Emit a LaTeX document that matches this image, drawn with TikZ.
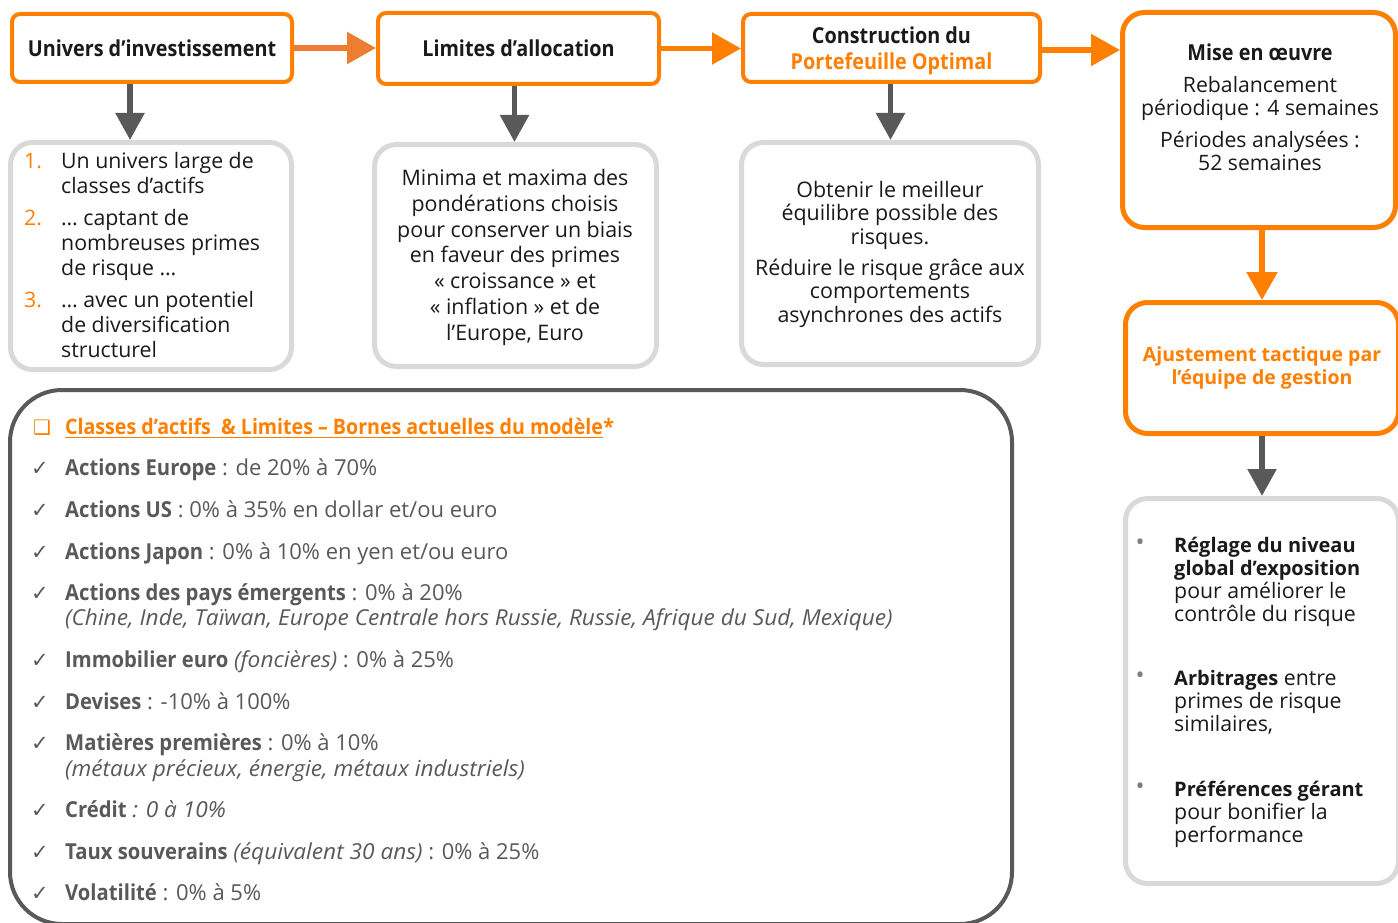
\documentclass[tikz,border=0pt]{standalone}
\usepackage{fontspec}
\setmainfont{Open Sans}
\newfontfamily\cbf{Open Sans}[FakeStretch=0.9]
\newfontfamily\cbb{Open Sans}[FakeStretch=0.92]
\newfontfamily\itf{Open Sans}[FakeStretch=1.03]
\newfontfamily\dv{DejaVu Sans}
\usetikzlibrary{arrows.meta}
\definecolor{orng}{HTML}{FF7F00}
\definecolor{orngb}{HTML}{ED7D31}
\definecolor{dgray}{HTML}{595959}
\definecolor{lgray}{HTML}{D9D9D9}
\definecolor{txt}{HTML}{1A1A1A}
\definecolor{bgray}{HTML}{7F7F7F}
\newcommand\mytop{\rule{0pt}{16pt}}
\newcommand\tb[1]{{\cbb\bfseries #1}}
\newcommand\ti[1]{{\itf\itshape #1}}
\begin{document}
\begin{tikzpicture}[x=1pt,y=-1pt,
  font=\fontsize{21.3}{25}\selectfont, text=txt,
  obox/.style={draw=orng, line width=4pt, rounded corners=8pt, fill=white, inner sep=0pt},
  obig/.style={draw=orng, line width=5pt, rounded corners=22pt, fill=white, inner sep=0pt},
  gbox/.style={draw=lgray, line width=5pt, rounded corners=22pt, fill=white, inner sep=0pt},
  lbox/.style={draw=dgray, line width=4pt, rounded corners=52pt, fill=white, inner sep=0pt},
  titlef/.style={font=\fontsize{22}{26}\selectfont\cbf\bfseries},
  oarrow/.style={draw=orng, line width=5.5pt, -{Triangle[length=29pt,width=31pt]}},
  garrow/.style={draw=dgray, line width=5.5pt, -{Triangle[length=27pt,width=28pt]}},
  txtn/.style={inner sep=0pt},
  lst/.style={inner sep=0pt, anchor=base west, text=dgray, font=\fontsize{22}{26}\selectfont},
  chk/.style={inner sep=0pt, anchor=base, text=dgray, font=\fontsize{21}{24}\selectfont\dv},
  bul/.style={inner sep=0pt, text=bgray, font=\fontsize{24}{26}\selectfont}]
\useasboundingbox (0,0) rectangle (1398,923);
\clip (0,0) rectangle (1398,923);
\fill[white] (0,0) rectangle (1398,923);

% top row boxes
\node[obox, minimum width=280pt, minimum height=68pt, titlef] (A) at (152,48) {Univers d’investissement};
\node[obox, minimum width=281pt, minimum height=71pt, titlef] (B) at (518.5,48.5) {Limites d’allocation};
\node[obox, minimum width=297pt, minimum height=68pt, align=center, font=\fontsize{22}{26}\selectfont\cbf\bfseries] (C) at (891.5,48) {\rule{0pt}{23pt}Construction du\\[0pt]\textcolor{orng}{Portefeuille Optimal}};
\node[obig, minimum width=273pt, minimum height=215pt] (D) at (1259,120) {};
\node[txtn, anchor=north, align=center, font=\fontsize{21.2}{23}\selectfont] (Dt) at (1260,43)
  {\rule{0pt}{17pt}{\fontsize{22}{26}\selectfont\cbf\bfseries Mise en œuvre}\\[9pt]
   Rebalancement\\ périodique : 4 semaines\\[9pt]
   Périodes analysées :\\ 52 semaines};

% right column
\node[obig, minimum width=273pt, minimum height=131pt, align=center,
  font=\fontsize{19.5}{23}\selectfont\bfseries, text=orng] (E) at (1262,368)
  {Ajustement tactique par\\l’équipe de gestion};
\node[gbox, minimum width=273pt, minimum height=385pt] (F) at (1262,691) {};

% gray boxes
\node[gbox, minimum width=281pt, minimum height=227pt] (G1) at (151,256) {};
\node[gbox, minimum width=282pt, minimum height=222pt] (G2) at (515.5,255.5) {};
\node[gbox, minimum width=297pt, minimum height=222pt] (G3) at (890,253.5) {};

% big box
\node[lbox, minimum width=1002pt, minimum height=534pt] (L) at (511,657) {};

% connectors
\draw[oarrow, draw=orngb] (A.east) -- (A.east -| B.west);
\draw[oarrow] (B.east) -- (B.east -| C.west);
\draw[oarrow] ([yshift=-2pt]C.east) -- ([yshift=-2pt]C.east -| D.west);
\draw[oarrow, -{Triangle[length=28pt,width=30pt]}] (D.south -| E.north) -- (E.north);
\draw[garrow] (E.south) -- (F.north);
\draw[garrow] ([xshift=-22pt]A.south) -- ([xshift=-22pt]A.south |- G1.north);
\draw[garrow] ([xshift=-4pt]B.south) -- ([xshift=-4pt]B.south |- G2.north);
\draw[garrow] ([xshift=-1pt]C.south) -- ([xshift=-1pt]C.south |- G3.north);

% G1 list
\node[txtn, anchor=base west, text=orng] (n1) at (24,168) {1.};
\node[txtn, anchor=base west, text=orng] (n2) at (24,225) {2.};
\node[txtn, anchor=base west, text=orng] (n3) at (24,307) {3.};
\node[txtn, anchor=north west, align=left] (i1) at (61,152) {\mytop Un univers large de\\classes d’actifs};
\node[txtn, anchor=north west, align=left] (i2) at (61,209) {\mytop … captant de\\nombreuses primes\\de risque …};
\node[txtn, anchor=north west, align=left] (i3) at (61,291) {\mytop … avec un potentiel\\de diversification\\structurel};

% G2 text
\node[txtn, anchor=north, align=center, font=\fontsize{21.4}{25.8}\selectfont] (t2) at (515,169)
  {\mytop Minima et maxima des\\pondérations choisis\\pour conserver un biais\\en faveur des primes\\« croissance » et\\« inflation » et de\\l’Europe, Euro};

% G3 text
\node[txtn, anchor=north, align=center, font=\fontsize{21.4}{23.5}\selectfont] (t3) at (890,181)
  {\mytop Obtenir le meilleur\\équilibre possible des\\risques.\\[7.5pt]Réduire le risque grâce aux\\comportements\\asynchrones des actifs};

% F bullets
\node[bul] (b1) at (1140,545) {•};
\node[bul] (b2) at (1140,678) {•};
\node[bul] (b3) at (1140,789) {•};
\node[txtn, anchor=north west, align=left, font=\fontsize{21.3}{23}\selectfont] (f1) at (1174,536)
  {\mytop{\fontsize{20}{23}\selectfont\bfseries Réglage du niveau}\\{\fontsize{20}{23}\selectfont\bfseries global d’exposition}\\pour améliorer le\\contrôle du risque};
\node[txtn, anchor=north west, align=left, font=\fontsize{21.3}{23}\selectfont] (f2) at (1174,669)
  {\mytop{\fontsize{20}{23}\selectfont\bfseries Arbitrages} entre\\primes de risque\\similaires,};
\node[txtn, anchor=north west, align=left, font=\fontsize{21.3}{23}\selectfont] (f3) at (1174,780)
  {\mytop{\fontsize{20}{23}\selectfont\bfseries Préférences gérant}\\pour bonifier la\\performance};

% big box content
\node[inner sep=0pt, anchor=base, text=orng, font=\fontsize{20}{22}\selectfont\dv] (cb) at (42,434) {❑};
\node[lst, text=orng, font=\fontsize{21.3}{25}\selectfont\cbb\bfseries] (hdr) at (65,434) {Classes d’actifs\ \ \& Limites – Bornes actuelles du modèle};
\node[lst, text=orng, anchor=base west, font=\fontsize{21.3}{25}\selectfont\cbb\bfseries] (ast) at (hdr.base east) {*};
\draw[orng, line width=1.4pt] ([yshift=-3.5pt]hdr.base west) -- ([yshift=-3.5pt]hdr.base east);

\node[chk] (c1) at (40,475) {✓};
\node[lst] (l1) at (65,475) {\tb{Actions Europe} : de 20\% à 70\%};
\node[chk] (c2) at (40,517) {✓};
\node[lst] (l2) at (65,517) {\tb{Actions US} : 0\% à 35\% en dollar et/ou euro};
\node[chk] (c3) at (40,559) {✓};
\node[lst] (l3) at (65,559) {\tb{Actions Japon} : 0\% à 10\% en yen et/ou euro};
\node[chk] (c4) at (40,600) {✓};
\node[lst] (l4) at (65,600) {\tb{Actions des pays émergents} : 0\% à 20\%};
\node[lst] (l4b) at (65,625) {\ti{(Chine, Inde, Taïwan, Europe Centrale hors Russie, Russie, Afrique du Sud, Mexique)}};
\node[chk] (c5) at (40,667) {✓};
\node[lst] (l5) at (65,667) {\tb{Immobilier euro} \ti{(foncières)} : 0\% à 25\%};
\node[chk] (c6) at (40,709) {✓};
\node[lst] (l6) at (65,709) {\tb{Devises} : -10\% à 100\%};
\node[chk] (c7) at (40,750) {✓};
\node[lst] (l7) at (65,750) {\tb{Matières premières} : 0\% à 10\%};
\node[lst] (l7b) at (65,776) {\ti{(métaux précieux, énergie, métaux industriels)}};
\node[chk] (c8) at (40,817) {✓};
\node[lst] (l8) at (65,817) {\tb{Crédit} \ti{: 0 à 10\%}};
\node[chk] (c9) at (40,859) {✓};
\node[lst] (l9) at (65,859) {\tb{Taux souverains} \ti{(équivalent 30 ans)} : 0\% à 25\%};
\node[chk] (c10) at (40,900) {✓};
\node[lst] (l10) at (65,900) {\tb{Volatilité} : 0\% à 5\%};
\end{tikzpicture}
\end{document}
